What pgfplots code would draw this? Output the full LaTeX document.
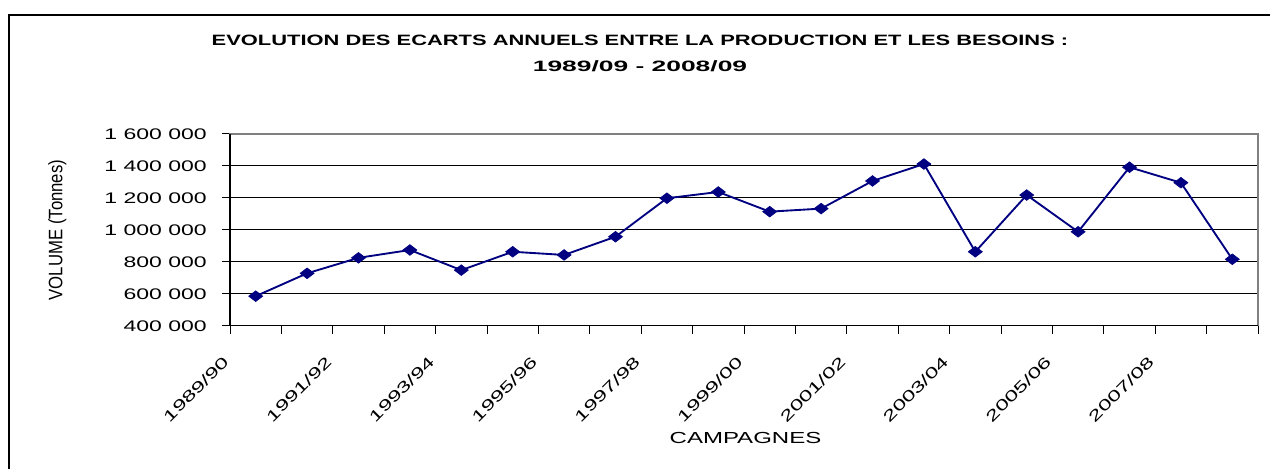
\documentclass[border=0pt]{standalone}
\usepackage{pgfplots}
\pgfplotsset{compat=1.18}
\usepackage{fontspec}
\setmainfont{Liberation Sans}
\newfontfamily\tickf[FakeStretch=1.5]{Liberation Sans}
\newfontfamily\xtickf[FakeStretch=1.53]{Liberation Sans}
\newfontfamily\titlef[FakeStretch=1.46]{Liberation Sans}
\newfontfamily\titlefb[FakeStretch=1.76]{Liberation Sans}
\newfontfamily\ylabf[FakeStretch=0.86]{Liberation Sans}
\definecolor{navyline}{RGB}{0,0,128}
\begin{document}
\begin{tikzpicture}
\useasboundingbox (0pt,0pt) rectangle (952.5pt,351pt);
\draw[line width=1.5pt] (6.75pt,-20pt) -- (6.75pt,339.75pt) -- (1000pt,339.75pt);
\node[anchor=base, font=\titlef\bfseries\fontsize{11.25}{13}\selectfont] at (480pt,316.7pt) {EVOLUTION DES ECARTS ANNUELS ENTRE LA PRODUCTION ET LES BESOINS :};
\node[anchor=base, font=\titlefb\bfseries\fontsize{11.25}{13}\selectfont] at (480pt,297.2pt) {1989/09 - 2008/09};
\begin{axis}[
  name=ax,
  at={(172.5pt,106.7pt)}, anchor=south west,
  scale only axis, width=771pt, height=143.8pt,
  xmin=-0.5, xmax=19.5, ymin=400000, ymax=1600000,
  scaled y ticks=false,
  xtick={-0.5,0.5,1.5,2.5,3.5,4.5,5.5,6.5,7.5,8.5,9.5,10.5,11.5,12.5,13.5,14.5,15.5,16.5,17.5,18.5,19.5},
  xticklabels={1989/90,,1991/92,,1993/94,,1995/96,,1997/98,,1999/00,,2001/02,,2003/04,,2005/06,,2007/08,,},
  ytick={400000,600000,800000,1000000,1200000,1400000,1600000},
  yticklabels={400 000,600 000,800 000,1 000 000,1 200 000,1 400 000,1 600 000},
  tick pos=left, tick align=outside, major tick length=6pt,
  tick style={black, line width=0.75pt},
  axis line style={draw=gray, line width=0.9pt},
  ymajorgrids, grid style={black, line width=0.75pt},
  yticklabel style={font=\tickf\fontsize{11.5}{13}\selectfont, inner sep=0pt, xshift=-11.25pt, anchor=east},
  xticklabel style={font=\xtickf\fontsize{11.5}{13}\selectfont, inner sep=0pt, xshift=-3pt, yshift=-19pt, rotate=45, anchor=east},
]
\addplot[color=navyline, line width=1.4pt, mark=diamond*, mark size=4pt,
  mark options={xscale=1.75, fill=navyline, draw=navyline, line width=0.5pt}]
  coordinates {
  (0,585000) (1,728000) (2,825000) (3,874000) (4,748000)
  (5,863000) (6,843000) (7,957000) (8,1198000) (9,1237000)
  (10,1114000) (11,1133000) (12,1306000) (13,1412000) (14,863000)
  (15,1218000) (16,988000) (17,1392000) (18,1295000) (19,816000)
  };
\end{axis}
\draw[black, line width=0.9pt] (ax.north west) -- (ax.south west) -- (ax.south east);
\node[rotate=90, font=\ylabf\fontsize{14.6}{16}\selectfont] at (43pt,178.5pt) {VOLUME (Tonnes)};
\node[anchor=base, font=\tickf\fontsize{12}{14}\selectfont] at (559.1pt,18.5pt) {CAMPAGNES};
\end{tikzpicture}
\end{document}
